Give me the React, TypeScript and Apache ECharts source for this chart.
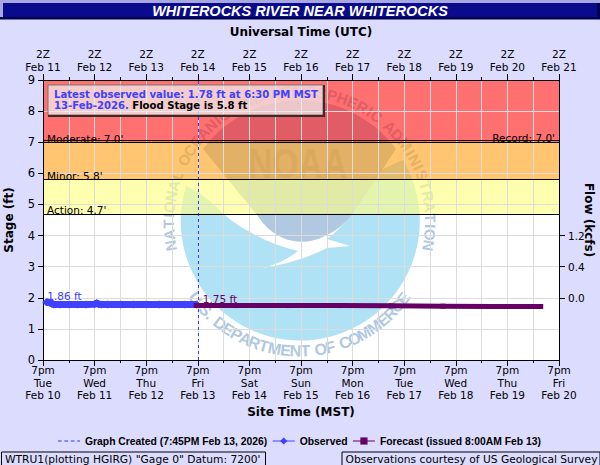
import React, { useEffect, useRef } from "react";
import * as echarts from "echarts";

// ---- data (x values are hours after 7pm Feb 10 MST)
const bottomTimes = ["7pm", "7pm", "7pm", "7pm", "7pm", "7pm", "7pm", "7pm", "7pm", "7pm", "7pm"];
const bottomDays = ["Tue", "Wed", "Thu", "Fri", "Sat", "Sun", "Mon", "Tue", "Wed", "Thu", "Fri"];
const bottomDates = ["Feb 10", "Feb 11", "Feb 12", "Feb 13", "Feb 14", "Feb 15", "Feb 16", "Feb 17", "Feb 18", "Feb 19", "Feb 20"];
const topDates = ["Feb 11", "Feb 12", "Feb 13", "Feb 14", "Feb 15", "Feb 16", "Feb 17", "Feb 18", "Feb 19", "Feb 20", "Feb 21"];
const flowStages = [2, 3, 4];
const flowLabels = ["0.0", "0.4", "1.2"];
const observedHours = [1.5, 2, 3, 4, 5, 8, 12, 16, 20, 24, 25, 26, 27, 30, 36, 42, 48, 54, 60, 66, 71.5];
const observedStage = [1.86, 1.86, 1.84, 1.82, 1.78, 1.78, 1.78, 1.78, 1.78, 1.79, 1.83, 1.79, 1.78, 1.78, 1.78, 1.78, 1.78, 1.78, 1.78, 1.78, 1.78];
const forecastHours = [71.3, 90, 114, 138, 162, 186, 210, 231.5];
const forecastStage = [1.75, 1.75, 1.75, 1.75, 1.74, 1.73, 1.72, 1.72];
const createdHour = [72.3, 72.3];
const createdStage = [0, 9];
const bandNames = ["plot", "record", "moderate", "minor"];
const bandLows = [0, 7, 5.8, 4.7];
const bandHighs = [9, 9, 7, 5.8];
const thresholdNames = ["Moderate: 7.0'", "Minor: 5.8'", "Action: 4.7'"];
const thresholdValues = [7.0, 5.8, 4.7];
const recordName = "Record: 7.0'";
const recordValue = 7.0;

const TITLE = "WHITEROCKS RIVER NEAR WHITEROCKS";
const RING_TOP = "NATIONAL OCEANIC AND ATMOSPHERIC ADMINISTRATION";
const RING_BOTTOM = "U.S. DEPARTMENT OF COMMERCE";

// ---- styling
const BG = "#dcdcff";
const BLUE = "#4040ff";
const PURPLE = "#660066";
const GRID = "#dcdcdc";
const SANS = "'DejaVu Sans'";
const ARIAL = "'Liberation Sans'";
const BAND_FILL: Record<string, string> = {
  plot: "#ffffff",
  record: "rgba(255,28,28,0.63)",
  moderate: "rgba(255,163,28,0.63)",
  minor: "rgba(255,255,130,0.63)",
};
const LOGO_DARK = "#b0c8e0";
const LOGO_LIGHT = "#b0e2f6";

echarts.graphic.registerShape(
  "noaaUpper",
  echarts.graphic.extendPath(
    "M203 149 A120 120 0 0 1 396 149 L353 213 Q343 228 323 237 Q303 246 283 238 Q268 232 257 215 Z",
    {}
  )
);
echarts.graphic.registerShape(
  "noaaLower",
  echarts.graphic.extendPath(
    "M186 186 A119.5 119.5 0 1 0 403 160 Q388 166 362 180 Q362 200 353 212 Q342 228 327 239 L350 246 L327 248 Q300 262 263 268 Q285 262 298 251 Q272 245 250 232 Q230 222 212 203 Q200 192 186 186 Z",
    {}
  )
);

function ringGlyphs(text: string, step: number, bottom: boolean, size: number) {
  const cx = 299.5;
  const cy = 222;
  const r = bottom ? 129 : 131;
  const unit = (c: string) => (c === "I" ? 0.55 : c === " " ? 0.55 : c === "." ? 0.5 : c === "M" ? 1.25 : 1);
  const total = text.split("").reduce((s, c) => s + unit(c), 0);
  let pos = -total / 2;
  return text.split("").map((c) => {
    const a = ((pos + unit(c) / 2) * step * Math.PI) / 180;
    pos += unit(c);
    return {
      type: "text",
      z: -2,
      silent: true,
      x: cx + r * Math.sin(a),
      y: bottom ? cy + r * Math.cos(a) : cy - r * Math.cos(a),
      rotation: bottom ? a : -a,
      style: {
        text: c,
        fill: LOGO_DARK,
        font: `bold ${size}px ${ARIAL}`,
        align: "center",
        verticalAlign: "middle",
      },
    };
  });
}

function plainRect(x: number, y: number, w: number, h: number, fill: string, z = 10) {
  return { type: "rect", z, silent: true, shape: { x, y, width: w, height: h }, style: { fill } };
}

function boxed(x: number, w: number, text: string) {
  return [
    {
      type: "rect",
      z: 10,
      silent: true,
      shape: { x: x + 0.5, y: 452, width: w, height: 14 },
      style: { fill: BG, stroke: "#000", lineWidth: 1 },
    },
    {
      type: "text",
      z: 11,
      silent: true,
      x: x + 4,
      y: 459,
      style: { text, fill: "#000", font: `10.7px ${SANS}`, verticalAlign: "middle" },
    },
  ];
}

export default function App() {
  const ref = useRef<HTMLDivElement>(null);
  useEffect(() => {
    document.body.style.margin = "0";
    const chart = echarts.init(ref.current!, undefined, { renderer: "svg" });
    const xBase = {
      type: "value",
      min: 0,
      max: 240,
      interval: 24,
      axisLine: { show: true, onZero: false, lineStyle: { color: "#000", width: 1 } },
      axisTick: { show: true, length: 6, lineStyle: { color: "#000" } },
      minorTick: { show: true, splitNumber: 2, length: 3, lineStyle: { color: "#000" } },
    };
    chart.setOption({
      animation: false,
      backgroundColor: BG,
      grid: { left: 43, right: 41, top: 80, bottom: 105, outerBoundsMode: "none" },
      legend: {
        left: 58,
        top: 436,
        padding: 0,
        itemWidth: 22,
        itemHeight: 9,
        itemGap: 5,
        textStyle: { fontFamily: ARIAL, fontWeight: "bold", fontSize: 10.35, color: "#000" },
        data: [
          {
            name: "Graph Created (7:45PM Feb 13, 2026)",
            icon: "path://M0 0h0v0zM0 4h4v1H0zM7 4h4v1H7zM14 4h4v1H14zM21 4h3v1H21zM24 9h0v0z",
            itemStyle: { color: "#3333ff" },
          },
          { name: "Observed", lineStyle: { width: 1 } },
          { name: "Forecast (issued 8:00AM Feb 13)", lineStyle: { width: 1 } },
        ],
      },
      xAxis: [
        {
          ...xBase,
          position: "bottom",
          name: "Site Time (MST)",
          nameLocation: "middle",
          nameGap: 45,
          nameTextStyle: { fontFamily: SANS, fontWeight: "bold", fontSize: 12, color: "#000" },
          axisLabel: {
            margin: 4,
            fontFamily: SANS,
            fontSize: 10.5,
            lineHeight: 12.5,
            color: "#000",
            formatter: (v: number) => {
              const i = v / 24;
              return `${bottomTimes[i]}\n${bottomDays[i]}\n${bottomDates[i]}`;
            },
          },
          splitLine: { show: true, lineStyle: { color: GRID, width: 1 } },
          minorSplitLine: { show: true, lineStyle: { color: GRID, width: 1 } },
        },
        {
          ...xBase,
          position: "top",
          name: "Universal Time (UTC)",
          nameLocation: "middle",
          nameGap: 42,
          nameTextStyle: { fontFamily: SANS, fontWeight: "bold", fontSize: 12, color: "#000" },
          axisLabel: {
            margin: 7,
            fontFamily: SANS,
            fontSize: 10.5,
            lineHeight: 12.5,
            color: "#000",
            formatter: (v: number) => `2Z\n${topDates[v / 24]}`,
          },
          splitLine: { show: false },
        },
      ],
      yAxis: [
        {
          type: "value",
          min: 0,
          max: 9,
          interval: 1,
          position: "left",
          name: "Stage (ft)",
          nameLocation: "middle",
          nameGap: 28,
          nameTextStyle: { fontFamily: SANS, fontWeight: "bold", fontSize: 12, color: "#000" },
          axisLine: { show: true, onZero: false, lineStyle: { color: "#000", width: 1 } },
          axisTick: { show: true, length: 5, lineStyle: { color: "#000" } },
          axisLabel: { margin: 8, fontFamily: SANS, fontSize: 11.5, color: "#000" },
          splitLine: { show: true, lineStyle: { color: GRID, width: 1 } },
        },
        {
          type: "value",
          min: 0,
          max: 9,
          interval: 1,
          position: "right",
          name: "Flow (kcfs)",
          nameLocation: "middle",
          nameRotate: -90,
          nameGap: 24,
          nameMoveOverlap: false,
          nameTextStyle: { fontFamily: SANS, fontWeight: "bold", fontSize: 12, color: "#000" },
          axisLine: { show: true, onZero: false, lineStyle: { color: "#000", width: 1 } },
          axisTick: { show: true, length: 6, customValues: flowStages, lineStyle: { color: "#000" } },
          axisLabel: {
            margin: 9,
            fontFamily: SANS,
            fontSize: 10.5,
            color: "#000",
            customValues: flowStages,
            formatter: (v: number) => flowLabels[flowStages.indexOf(v)],
          },
          splitLine: { show: false },
        },
      ],
      series: [
        {
          type: "custom",
          name: "bands-plot",
          z: -3,
          silent: true,
          clip: false,
          encode: { y: [0, 1] },
          data: [[bandLows[0], bandHighs[0], 0]],
          renderItem: (params: any, api: any) => {
            const cs = params.coordSys;
            const top = api.coord([0, api.value(1)])[1];
            const bottom = api.coord([0, api.value(0)])[1];
            return {
              type: "rect",
              shape: { x: cs.x, y: top, width: cs.width, height: bottom - top },
              style: { fill: BAND_FILL[bandNames[api.value(2)]] },
            };
          },
        },
        {
          type: "custom",
          name: "bands",
          z: -1,
          silent: true,
          clip: false,
          encode: { y: [0, 1] },
          data: bandNames.slice(1).map((_, i) => [bandLows[i + 1], bandHighs[i + 1], i + 1]),
          renderItem: (params: any, api: any) => {
            const cs = params.coordSys;
            const top = api.coord([0, api.value(1)])[1];
            const bottom = api.coord([0, api.value(0)])[1];
            return {
              type: "rect",
              shape: { x: cs.x, y: top, width: cs.width, height: bottom - top },
              style: { fill: BAND_FILL[bandNames[api.value(2)]] },
            };
          },
        },
        {
          type: "line",
          name: "thresholds",
          data: [],
          silent: true,
          markLine: {
            silent: true,
            symbol: "none",
            animation: false,
            lineStyle: { color: "#000", width: 1, type: "solid" },
            data: [
              ...thresholdValues.map((v, i) => ({
                yAxis: v,
                label: {
                  show: true,
                  position: "insideStartTop",
                  distance: [4, -2],
                  formatter: thresholdNames[i],
                  color: "#000",
                  fontFamily: SANS,
                  fontSize: 10.5,
                },
              })),
              {
                yAxis: recordValue + 0.055,
                label: {
                  show: true,
                  position: "insideEndTop",
                  distance: [4, -3],
                  formatter: recordName,
                  color: "#000",
                  fontFamily: SANS,
                  fontSize: 10.5,
                },
              },
            ],
          },
        },
        {
          type: "line",
          name: "Graph Created (7:45PM Feb 13, 2026)",
          data: createdHour.map((h, i) => [h, createdStage[i]]),
          symbol: "none",
          silent: true,
          color: "#3333ff",
          lineStyle: { color: "#3333ff", width: 1, type: [3, 3] },
          z: 3,
        },
        {
          type: "line",
          name: "Observed",
          color: BLUE,
          symbol: "diamond",
          symbolSize: 8,
          lineStyle: { color: BLUE, width: 7, cap: "butt" },
          itemStyle: { color: BLUE },
          z: 4,
          data: observedHours.map((h, i) =>
            i === 0
              ? {
                  value: [h, observedStage[i]],
                  label: {
                    show: true,
                    position: "right",
                    offset: [-8, -6],
                    formatter: "1.86 ft",
                    color: BLUE,
                    fontFamily: SANS,
                    fontSize: 10.5,
                    fontWeight: "normal",
                  },
                }
              : [h, observedStage[i]]
          ),
        },
        {
          type: "line",
          name: "Forecast (issued 8:00AM Feb 13)",
          color: PURPLE,
          symbol: "rect",
          symbolSize: 5,
          lineStyle: { color: PURPLE, width: 5 },
          itemStyle: { color: PURPLE },
          z: 5,
          data: forecastHours.map((h, i) =>
            i === 0
              ? {
                  value: [h, forecastStage[i]],
                  label: {
                    show: true,
                    position: "right",
                    offset: [-1, -7],
                    formatter: "1.75 ft",
                    color: PURPLE,
                    fontFamily: SANS,
                    fontSize: 10.5,
                  },
                }
              : [h, forecastStage[i]]
          ),
        },
      ],
      graphic: {
        elements: [
          // logo, under the translucent flood bands
          { type: "noaaLower", z: -2, silent: true, style: { fill: LOGO_LIGHT } },
          { type: "noaaUpper", z: -2, silent: true, style: { fill: LOGO_DARK } },
          {
            type: "text",
            z: -2,
            silent: true,
            x: 297.5,
            y: 163,
            scaleX: 0.78,
            style: {
              text: "NOAA",
              fill: "#9ab4d4",
              font: `bold 43px ${ARIAL}`,
              align: "center",
              verticalAlign: "middle",
            },
          },
          ...ringGlyphs(RING_TOP, 4.78, false, 15),
          ...ringGlyphs(RING_BOTTOM, 4.4, true, 16),
          // banner
          plainRect(0, 0, 600, 3, "#a8a8e0"),
          plainRect(0, 3, 3, 15, "#a8a8e0"),
          plainRect(3, 3, 594, 14, "#0a0a8c"),
          plainRect(0, 17, 600, 2.5, "#000050"),
          plainRect(597, 3, 3, 16, "#000050"),
          {
            type: "text",
            z: 11,
            silent: true,
            x: 300,
            y: 11,
            style: {
              text: TITLE,
              fill: "#fff",
              font: `italic bold 14.5px ${ARIAL}`,
              align: "center",
              verticalAlign: "middle",
            },
          },
          // latest value box
          {
            type: "rect",
            z: 9,
            silent: true,
            shape: { x: 48, y: 85, width: 275, height: 30 },
            style: { fill: "rgba(240,240,240,0.72)", stroke: "#777", lineWidth: 1 },
          },
          plainRect(323, 85, 2, 32, "#402828", 10),
          plainRect(48, 115, 277, 2, "#402828", 10),
          {
            type: "text",
            z: 11,
            silent: true,
            x: 54,
            y: 89,
            style: {
              rich: {
                b: { fill: BLUE, font: `bold 10.1px ${SANS}`, lineHeight: 10.5 },
                k: { fill: "#000", font: `bold 10.1px ${SANS}`, lineHeight: 10.5 },
              },
              text: "{b|Latest observed value: 1.78 ft at 6:30 PM MST}\n{b|13-Feb-2026.} {k|Flood Stage is 5.8 ft}",
            },
          },
          // footers
          ...boxed(1, 264, "WTRU1(plotting HGIRG) \"Gage 0\" Datum: 7200'"),
          ...boxed(341.5, 258, "Observations courtesy of US Geological Survey"),
        ],
      },
    });
    return () => chart.dispose();
  }, []);
  return <div ref={ref} style={{ position: "fixed", left: 0, top: 0, width: 600, height: 465 }} />;
}
